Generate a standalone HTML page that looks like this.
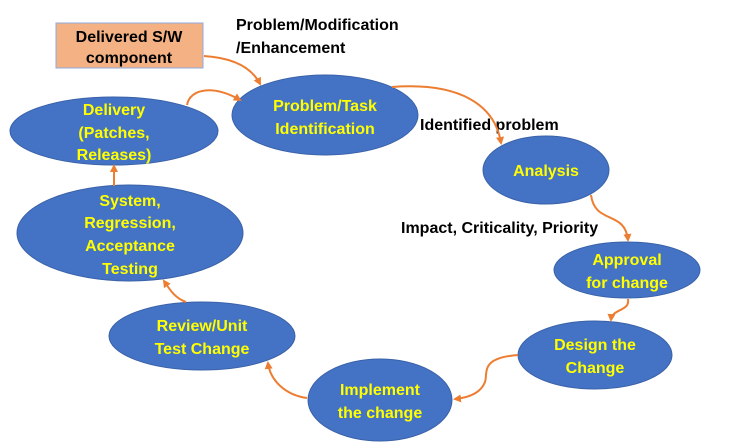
<!DOCTYPE html>
<html><head><style>
body{margin:0;background:#fff;width:747px;height:448px;overflow:hidden}
svg{display:block}
.y{font-family:"Liberation Sans",sans-serif;font-weight:bold;font-size:16px;fill:#ffff00;text-anchor:middle}
.b{font-family:"Liberation Sans",sans-serif;font-weight:bold;font-size:16px;fill:#000}
.c{fill:none;stroke:#ed7d31;stroke-width:2}
</style></head><body>
<svg width="747" height="448" viewBox="0 0 747 448">
<defs><marker id="a" markerWidth="8" markerHeight="8" refX="6" refY="4" orient="auto" markerUnits="userSpaceOnUse"><path d="M0,0 L8,4 L0,8 Z" fill="#ed7d31"/></marker></defs>
<g fill="#4472c4" stroke="#3a62a8" stroke-width="1">
<ellipse cx="325" cy="115" rx="93" ry="40"/>
<ellipse cx="114" cy="131" rx="104" ry="34"/>
<ellipse cx="546" cy="170" rx="63" ry="34"/>
<ellipse cx="627" cy="270" rx="73" ry="28"/>
<ellipse cx="595" cy="355" rx="77" ry="34"/>
<ellipse cx="380" cy="400" rx="72" ry="41"/>
<ellipse cx="202" cy="336" rx="93" ry="34"/>
<ellipse cx="130" cy="233" rx="113" ry="48"/>
</g>
<rect x="56" y="23" width="147" height="45" fill="#f4b183" stroke="#8faadc" stroke-width="1"/>
<text class="b" x="129" y="42" text-anchor="middle">Delivered S/W</text>
<text class="b" x="129" y="63" text-anchor="middle">component</text>
<text class="b" x="236" y="30">Problem/Modification</text>
<text class="b" x="236" y="53">/Enhancement</text>
<text class="b" x="420" y="130">Identified problem</text>
<text class="b" x="401" y="233">Impact, Criticality, Priority</text>
<path class="c" marker-end="url(#a)" d="M204,56 C235,58 252,68 260,84"/>
<path class="c" marker-end="url(#a)" d="M187,105 C190,88 215,85 240,100"/>
<path class="c" marker-end="url(#a)" d="M392,87 C460,82 495,105 501,143"/>
<path class="c" marker-end="url(#a)" d="M591,195 C595,225 625,210 628,240"/>
<path class="c" marker-end="url(#a)" d="M628,299 C630,312 612,308 611,320"/>
<path class="c" marker-end="url(#a)" d="M518,355 C480,358 488,372 485,382 C480,395 465,398 455,399"/>
<path class="c" marker-end="url(#a)" d="M307,398 C285,395 270,380 268,363"/>
<path class="c" marker-end="url(#a)" d="M186,302 C175,298 170,290 164,281"/>
<path class="c" marker-end="url(#a)" d="M114,186 L114,166"/>
<text class="y" x="325" y="111">Problem/Task</text>
<text class="y" x="325" y="134">Identification</text>
<text class="y" x="114" y="115">Delivery</text>
<text class="y" x="114" y="138">(Patches,</text>
<text class="y" x="114" y="160">Releases)</text>
<text class="y" x="546" y="176">Analysis</text>
<text class="y" x="627" y="265">Approval</text>
<text class="y" x="627" y="288">for change</text>
<text class="y" x="595" y="350">Design the</text>
<text class="y" x="595" y="373">Change</text>
<text class="y" x="380" y="395">Implement</text>
<text class="y" x="380" y="418">the change</text>
<text class="y" x="202" y="331">Review/Unit</text>
<text class="y" x="202" y="354">Test Change</text>
<text class="y" x="130" y="206">System,</text>
<text class="y" x="130" y="228">Regression,</text>
<text class="y" x="130" y="251">Acceptance</text>
<text class="y" x="130" y="274">Testing</text>
</svg>
</body></html>
